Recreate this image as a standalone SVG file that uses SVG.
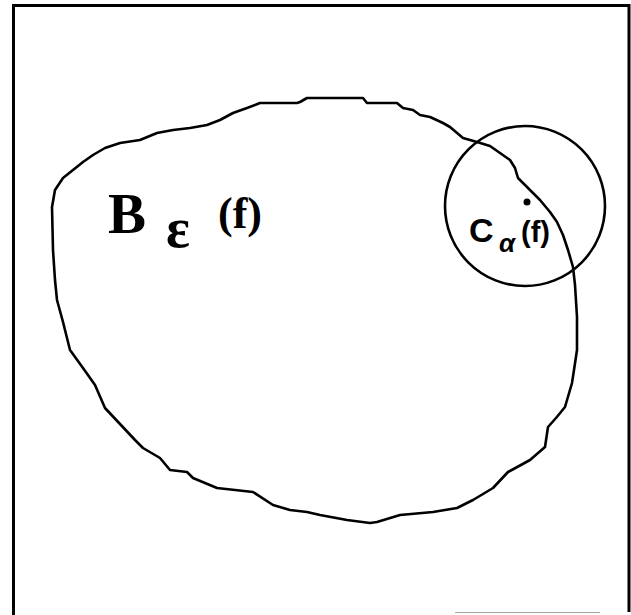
<svg xmlns="http://www.w3.org/2000/svg" width="631" height="615" viewBox="0 0 631 615">
<style>
.ln{fill:none;stroke:#000;stroke-width:2.6;stroke-linejoin:round;stroke-linecap:round}
.serif{font-family:"Liberation Serif","Times New Roman",serif;font-weight:bold;fill:#000}
.sans{font-family:"Liberation Sans",Arial,sans-serif;font-weight:bold;fill:#000}
</style>
<rect width="631" height="615" fill="#fff"/>
<g id="frame">
<path d="M13.5,615 L13.5,5.5 L629,5.5 L629,612" fill="none" stroke="#000" stroke-width="3"/>
<path d="M455,612.5 L600,612.5" stroke="#aaa" stroke-width="1"/>
</g>
<g id="blob">
<path class="ln" d="M300,102 L307,98 L363,98 L367,103 L397,103 L403,108 L413,110 L420,115 L430,117 L443,123 L450,127 L463,138 L477,142 L490,146 L500,153 L510,160 L515,168 L518,178 L528,188 L540,200 L550,212 L557,222 L563,235 L568,250 L573,267 L575,285 L577,317 L577,350 L574,370 L572,383 L565,407 L556,418 L548,427 L545,447 L530,460 L508,472 L493,488 L473,500 L457,508 L433,512 L400,515 L377,522 L370,523 L347,520 L320,515 L307,512 L290,510 L273,505 L253,492 L217,488 L193,478 L187,472 L170,470 L160,458 L143,448 L135,440 L105,408 L95,385 L83,368 L70,350 L63,322 L57,300 L55,280 L53,250 L52,207 L55,190 L63,178 L73,170 L83,162 L93,155 L105,148 L120,143 L140,140 L157,133 L173,130 L190,128 L207,125 L220,120 L233,113 L247,108 L260,103 L297,103 Z"/>
</g>
<g id="circle">
<circle class="ln" cx="525" cy="206" r="80"/>
<circle cx="527" cy="202" r="3.5" fill="#000"/>
</g>
<g id="label-B">
<text class="serif" x="108" y="233" font-size="57">B</text>
<text class="serif" x="166" y="247" font-size="56">ε</text>
<text class="serif" x="218" y="228" font-size="44">(f)</text>
</g>
<g id="label-C">
<text class="sans" x="469" y="242" font-size="34">C</text>
<text class="sans" x="499" y="252" font-size="26" font-style="italic">α</text>
<text class="sans" x="521" y="242" font-size="29">(f)</text>
</g>
</svg>
